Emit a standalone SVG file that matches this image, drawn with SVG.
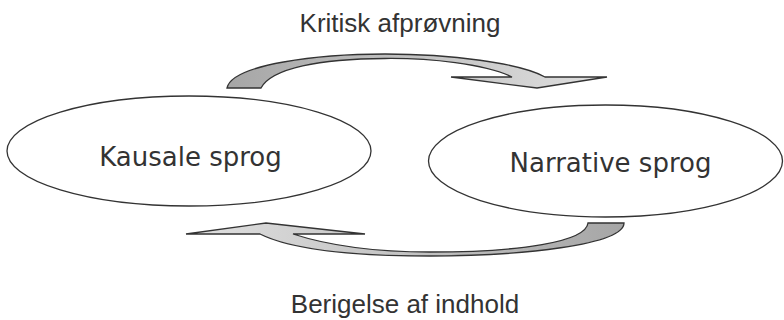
<svg xmlns="http://www.w3.org/2000/svg" width="784" height="320" viewBox="0 0 784 320">
<style>
.node{fill:#fff;stroke:#333;stroke-width:1.3}
.lbl{font-family:"DejaVu Sans",sans-serif;font-size:26px;fill:#333;text-anchor:middle}
.cap{font-family:"Liberation Sans",Arial,sans-serif;font-size:26px;fill:#333;text-anchor:middle}
.arr{stroke:#333;stroke-width:1.3;stroke-linejoin:miter}
</style>
<defs>
<linearGradient id="gTop" x1="227" y1="0" x2="607" y2="0" gradientUnits="userSpaceOnUse">
<stop offset="0" stop-color="#a6a6a6"/><stop offset="1" stop-color="#e0e0e0"/>
</linearGradient>
<linearGradient id="gBot" x1="624" y1="0" x2="186" y2="0" gradientUnits="userSpaceOnUse">
<stop offset="0" stop-color="#a6a6a6"/><stop offset="1" stop-color="#e0e0e0"/>
</linearGradient>
</defs>
<rect width="784" height="320" fill="#fff"/>
<g id="connectors">
<path class="arr" fill="url(#gTop)" d="M227,88 C232,64 320,54 385,54 C450,54 520,63 545,77 L607,77 L537,88 L451,77 L512,77 C485,64 430,58 385,58.5 C320,59 272,68 261,88 Z"/>
<path class="arr" fill="url(#gBot)" d="M624,223 C624,245 520,256 430,256 C350,256 290,249 260,234 L186,234 L266,223 L365,234 L293,234 C330,246 380,252 430,252 C520,252 586,242 588,223 Z"/>
</g>
<g id="label-top"><text class="cap" x="400" y="32">Kritisk afprøvning</text></g>
<g id="label-bottom"><text class="cap" x="405" y="313">Berigelse af indhold</text></g>
<g id="kausale">
<ellipse class="node" cx="189" cy="151" rx="182" ry="55"/>
<text class="lbl" x="190.5" y="166">Kausale sprog</text>
</g>
<g id="narrative">
<ellipse class="node" cx="605.5" cy="161" rx="177" ry="56"/>
<text class="lbl" x="610.5" y="172">Narrative sprog</text>
</g>
</svg>
